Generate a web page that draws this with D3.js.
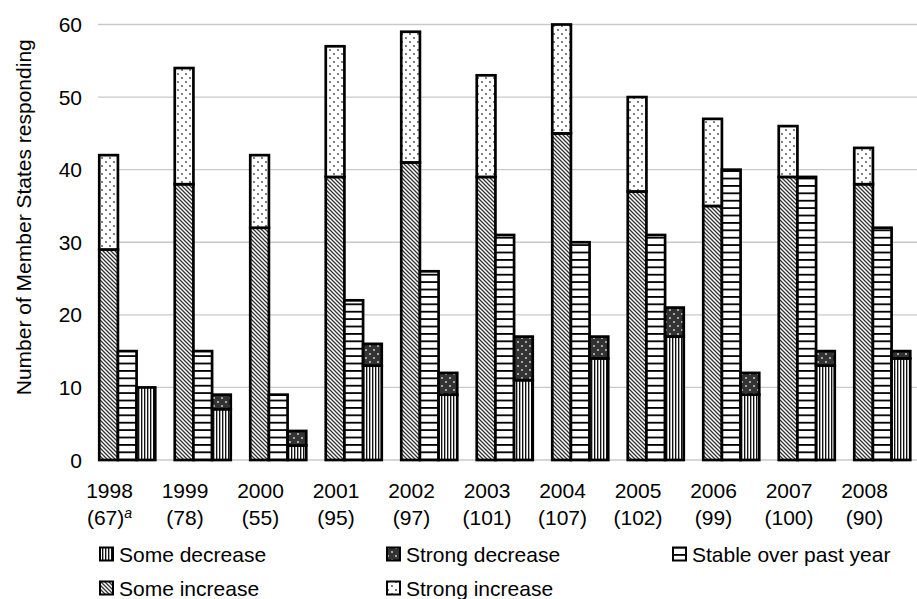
<!DOCTYPE html>
<html>
<head>
<meta charset="utf-8">
<script src="https://cdn.jsdelivr.net/npm/d3@7/dist/d3.min.js"></script>
<style>
  html, body { margin: 0; padding: 0; background: #fff; }
  svg { display: block; }
  text { font-family: "Liberation Sans", Arial, sans-serif; fill: #000; }
</style>
</head>
<body>
<svg id="chart" width="917" height="599"></svg>
<script>
// ---- Data ----
const years = ["1998","1999","2000","2001","2002","2003","2004","2005","2006","2007","2008"];
const respondents = ["67","78","55","95","97","101","107","102","99","100","90"];
const someIncrease   = [29, 38, 32, 39, 41, 39, 45, 37, 35, 39, 38];
const strongIncrease = [13, 16, 10, 18, 18, 14, 15, 13, 12,  7,  5];
const stable         = [15, 15,  9, 22, 26, 31, 30, 31, 40, 39, 32];
const someDecrease   = [10,  7,  2, 13,  9, 11, 14, 17,  9, 13, 14];
const strongDecrease = [ 0,  2,  2,  3,  3,  6,  3,  4,  3,  2,  1];
const yTicks = [0, 10, 20, 30, 40, 50, 60];
const barKeys = ["increase", "stable", "decrease"];

const svg = d3.select("#chart");
const FS = 21;

// ---- Patterns ----
const defs = svg.append("defs");
function pat(id, w, h, build) {
  const p = defs.append("pattern").attr("id", id).attr("patternUnits", "userSpaceOnUse")
    .attr("width", w).attr("height", h);
  build(p);
}
pat("pSomeInc", 4, 4, p => {
  p.append("rect").attr("width", 4).attr("height", 4).attr("fill", "#fff");
  p.append("path").attr("d", "M-1,-1 L5,5 M3,-1 L5,1 M-1,3 L1,5").attr("stroke", "#333").attr("stroke-width", 1.3);
});
pat("pStrongInc", 8, 8, p => {
  p.append("rect").attr("width", 8).attr("height", 8).attr("fill", "#fff");
  p.append("circle").attr("cx", 2).attr("cy", 2).attr("r", 0.9).attr("fill", "#444");
  p.append("circle").attr("cx", 6).attr("cy", 6).attr("r", 0.9).attr("fill", "#444");
});
pat("pStable", 8, 7.4, p => {
  p.append("rect").attr("width", 8).attr("height", 7.4).attr("fill", "#fff");
  p.append("rect").attr("y", 0).attr("width", 8).attr("height", 1.8).attr("fill", "#000");
});
pat("pSomeDec", 3, 4, p => {
  p.append("rect").attr("width", 3).attr("height", 4).attr("fill", "#fff");
  p.append("rect").attr("x", 0).attr("width", 1.1).attr("height", 4).attr("fill", "#111");
  p.append("rect").attr("x", 1.1).attr("width", 0.8).attr("height", 4).attr("fill", "#999");
});
pat("pStrongDec", 8, 8, p => {
  p.append("rect").attr("width", 8).attr("height", 8).attr("fill", "#333");
  p.append("circle").attr("cx", 2).attr("cy", 2).attr("r", 1).attr("fill", "#ccc");
  p.append("circle").attr("cx", 6).attr("cy", 6).attr("r", 1).attr("fill", "#ccc");
});

// ---- Scales ----
const y = d3.scaleLinear().domain([0, 60]).range([460, 24.5]);
const xl = d3.scaleBand().domain(years).range([71.75, 902.25]);
const xs = d3.scaleBand().domain(barKeys).range([27.5, 83.5]);

// ---- Gridlines ----
svg.append("g").selectAll("line").data(yTicks).join("line")
  .attr("x1", 98).attr("x2", 917)
  .attr("y1", d => y(d)).attr("y2", d => y(d))
  .attr("stroke", "#c9c9c9").attr("stroke-width", 1.3);

// ---- Y axis labels ----
svg.append("g").selectAll("text").data(yTicks).join("text")
  .attr("x", 82).attr("y", d => y(d)).attr("dy", "0.36em")
  .attr("text-anchor", "end").attr("font-size", FS).text(d => d);

svg.append("text")
  .attr("transform", `translate(24,${(y(0) + y(60)) / 2 - 25}) rotate(-90)`)
  .attr("text-anchor", "middle").attr("dy", "0.35em").attr("font-size", FS)
  .text("Number of Member States responding");

// ---- Bars ----
const segs = [];
years.forEach((yr, i) => {
  segs.push({yr, key: "increase", y0: 0, y1: someIncrease[i], fill: "url(#pSomeInc)"});
  segs.push({yr, key: "increase", y0: someIncrease[i], y1: someIncrease[i] + strongIncrease[i], fill: "url(#pStrongInc)"});
  segs.push({yr, key: "stable", y0: 0, y1: stable[i], fill: "url(#pStable)"});
  segs.push({yr, key: "decrease", y0: 0, y1: someDecrease[i], fill: "url(#pSomeDec)"});
  segs.push({yr, key: "decrease", y0: someDecrease[i], y1: someDecrease[i] + strongDecrease[i], fill: "url(#pStrongDec)"});
});
svg.append("g").selectAll("rect").data(segs.filter(d => d.y1 > d.y0)).join("rect")
  .attr("x", d => xl(d.yr) + xs(d.key))
  .attr("width", xs.bandwidth())
  .attr("y", d => y(d.y1))
  .attr("height", d => y(d.y0) - y(d.y1))
  .attr("fill", d => d.fill)
  .attr("stroke", "#000").attr("stroke-width", 2.7);

// ---- X labels ----
const xg = svg.append("g");
years.forEach((yr, i) => {
  const cx = xl(yr) + xl.bandwidth() / 2;
  xg.append("text").attr("x", cx).attr("y", 498).attr("text-anchor", "middle")
    .attr("font-size", FS).text(yr);
  const t = xg.append("text").attr("x", cx).attr("y", 525).attr("text-anchor", "middle")
    .attr("font-size", FS);
  t.append("tspan").text("(" + respondents[i] + ")");
  if (i === 0) {
    t.append("tspan").attr("font-size", 14).attr("font-style", "italic").attr("dy", -7).text("a");
  }
});

// ---- Legend ----
const legendItems = [
  {label: "Some decrease", fill: "url(#pSomeDec)", x: 99, y: 554},
  {label: "Strong decrease", fill: "url(#pStrongDec)", x: 386, y: 554},
  {label: "Stable over past year", fill: "url(#pStable)", x: 672, y: 554},
  {label: "Some increase", fill: "url(#pSomeInc)", x: 99, y: 588},
  {label: "Strong increase", fill: "url(#pStrongInc)", x: 386, y: 588}
];
const lg = svg.append("g").selectAll("g").data(legendItems).join("g")
  .attr("transform", d => `translate(${d.x},${d.y})`);
lg.append("rect").attr("x", 1).attr("y", -6.5).attr("width", 13).attr("height", 13)
  .attr("fill", d => d.fill).attr("stroke", "#000").attr("stroke-width", 2);
lg.append("text").attr("x", 20).attr("y", 0).attr("dy", "0.36em")
  .attr("font-size", FS).text(d => d.label);
</script>
</body>
</html>
